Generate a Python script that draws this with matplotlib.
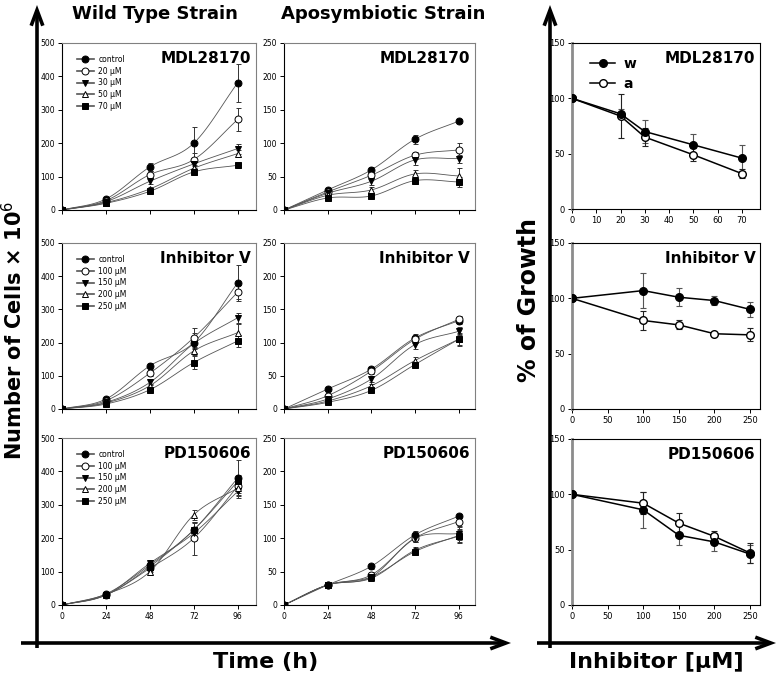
import numpy as np
import matplotlib
matplotlib.use("Agg")
import matplotlib.pyplot as plt

W, H = 778, 676

# ---------------- data ----------------
hours = [0, 24, 48, 72, 96]
wt_labels_mdl = ["control", "20 µM", "30 µM", "50 µM", "70 µM"]
wt_labels_inh = ["control", "100 µM", "150 µM", "200 µM", "250 µM"]

wt_mdl = [[0, 33, 129, 200, 381], [0, 28, 106, 151, 271], [0, 25, 86, 138, 184],
          [0, 22, 63, 125, 169], [0, 20, 56, 114, 134]]
wt_mdl_err = [[0, 5, 12, 49, 57], [0, 4, 10, 20, 34], [0, 3, 8, 12, 15],
              [0, 3, 6, 10, 10], [0, 3, 5, 8, 8]]
apo_mdl = [[0, 30, 60, 106, 133], [0, 27, 52, 82, 90], [0, 25, 43, 75, 77],
           [0, 22, 30, 54, 51], [0, 18, 21, 44, 42]]
apo_mdl_err = [[0, 3, 5, 7, 3], [0, 3, 4, 5, 10], [0, 3, 6, 8, 6],
               [0, 3, 4, 6, 12], [0, 3, 3, 5, 8]]

wt_inh = [[0, 30, 130, 200, 380], [0, 25, 108, 215, 352], [0, 20, 80, 197, 275],
          [0, 18, 70, 175, 230], [0, 15, 58, 140, 205]]
wt_inh_err = [[0, 5, 10, 30, 55], [0, 4, 10, 30, 20], [0, 3, 8, 15, 15],
              [0, 3, 6, 12, 25], [0, 3, 5, 20, 18]]
apo_inh = [[0, 30, 60, 107, 133], [0, 20, 57, 105, 135], [0, 15, 45, 97, 117],
           [0, 12, 35, 73, 105], [0, 10, 28, 67, 105]]
apo_inh_err = [[0, 3, 4, 6, 5], [0, 3, 4, 5, 5], [0, 2, 4, 6, 6],
               [0, 2, 3, 5, 8], [0, 2, 3, 4, 10]]

wt_pd = [[0, 33, 120, 225, 380], [0, 30, 110, 200, 355], [0, 30, 125, 215, 340],
         [0, 32, 100, 270, 350], [0, 30, 115, 225, 370]]
wt_pd_err = [[0, 5, 15, 25, 55], [0, 4, 12, 50, 25], [0, 4, 10, 20, 20],
             [0, 4, 10, 15, 15], [0, 4, 10, 20, 20]]
apo_pd = [[0, 30, 58, 105, 133], [0, 30, 45, 100, 125], [0, 30, 42, 100, 107],
          [0, 30, 40, 82, 103], [0, 30, 42, 80, 104]]
apo_pd_err = [[0, 3, 4, 6, 3], [0, 3, 4, 5, 6], [0, 3, 4, 5, 10],
              [0, 3, 3, 5, 10], [0, 3, 4, 5, 10]]

mdl_conc = [0, 20, 30, 50, 70]
mdl_w = [100, 86, 70, 58, 46]
mdl_w_err = [0, 4, 10, 10, 12]
mdl_a = [100, 84, 65, 49, 32]
mdl_a_err = [0, 20, 8, 6, 4]

inh_conc = [0, 100, 150, 200, 250]
inh_w = [100, 107, 101, 98, 90]
inh_w_err = [0, 16, 8, 4, 7]
inh_a = [100, 80, 76, 68, 67]
inh_a_err = [0, 9, 4, 2, 6]

pd_conc = [0, 100, 150, 200, 250]
pd_w = [100, 86, 63, 57, 46]
pd_w_err = [0, 16, 9, 8, 8]
pd_a = [100, 92, 74, 62, 47]
pd_a_err = [0, 10, 9, 5, 9]

# marker styles for the 5 series: (marker, facecolor)
styles = [("o", "black"), ("o", "white"), ("v", "black"), ("^", "white"), ("s", "black")]

FONT = "DejaVu Sans"
plt.rcParams["font.family"] = FONT


def px_axes(fig, left, top, right, bottom):
    return fig.add_axes([left / W, 1 - bottom / H, (right - left) / W, (bottom - top) / H])


def smooth(x, y, n=16):
    # catmull-rom through the measured points, only for drawing the curve
    x = np.asarray(x, float)
    y = np.asarray(y, float)
    px = np.concatenate([[2 * x[0] - x[1]], x, [2 * x[-1] - x[-2]]])
    py = np.concatenate([[2 * y[0] - y[1]], y, [2 * y[-1] - y[-2]]])
    xs, ys = [], []
    t = np.linspace(0, 1, n)
    for i in range(1, len(px) - 2):
        for arr, out in ((px, xs), (py, ys)):
            p0, p1, p2, p3 = arr[i - 1], arr[i], arr[i + 1], arr[i + 2]
            out.append(0.5 * (2 * p1 + (-p0 + p2) * t + (2 * p0 - 5 * p1 + 4 * p2 - p3) * t ** 2
                              + (-p0 + 3 * p1 - 3 * p2 + p3) * t ** 3))
    return np.concatenate(xs), np.concatenate(ys)


def style_box(ax, left_col="black", top_col="#808080", right_col="#808080", bottom_col="black",
              left_w=0.8):
    ax.spines["left"].set_color(left_col)
    ax.spines["left"].set_linewidth(left_w)
    ax.spines["bottom"].set_color(bottom_col)
    ax.spines["top"].set_color(top_col)
    ax.spines["right"].set_color(right_col)
    for s in ["bottom", "top", "right"]:
        ax.spines[s].set_linewidth(0.8)
    ax.tick_params(direction="out", length=3, width=0.7, labelsize=5.5, pad=2)


def growth_panel(ax, data, err, ymax, title, labels=None, xmax=106):
    for i, (ys, es) in enumerate(zip(data, err)):
        xs_s, ys_s = smooth(hours, ys)
        ax.plot(xs_s, ys_s, color="#555555", lw=0.6, zorder=2)
        ax.errorbar(hours, ys, yerr=es, fmt="none", ecolor="#333333", elinewidth=0.7,
                    capsize=1.8, capthick=0.7, zorder=3)
        m, fc = styles[i]
        ax.plot(hours, ys, linestyle="none", marker=m, markersize=5, markerfacecolor=fc,
                markeredgecolor="black", markeredgewidth=0.7, zorder=4,
                label=labels[i] if labels else None)
    ax.set_xlim(0, xmax)
    ax.set_ylim(0, ymax)
    ax.set_xticks(hours)
    ax.set_yticks(np.linspace(0, ymax, 6))
    ax.set_xticklabels([])
    ax.text(0.975, 0.95, title, transform=ax.transAxes, ha="right", va="top",
            fontsize=11, fontweight="bold")
    style_box(ax)
    if labels:
        leg = ax.legend(loc="upper left", bbox_to_anchor=(0.05, 0.96), fontsize=5.5,
                        frameon=False, handlelength=2.2, handletextpad=0.6,
                        labelspacing=0.35, borderpad=0.2)
        for h in leg.legend_handles:
            h.set_linestyle("-")
            h.set_color("#555555")
            h.set_linewidth(1.2)


def percent_panel(ax, conc, w, w_err, a, a_err, title, xmax, xticks, legend=False):
    ax.errorbar(conc, w, yerr=w_err, fmt="none", ecolor="#555555", elinewidth=0.8,
                capsize=2.2, capthick=0.8, zorder=2)
    ax.errorbar(conc, a, yerr=a_err, fmt="none", ecolor="#222222", elinewidth=0.8,
                capsize=2.2, capthick=0.8, zorder=2)
    ax.plot(conc, w, color="black", lw=1.1, marker="o", markersize=5.5,
            markerfacecolor="black", markeredgecolor="black", zorder=4, label="w")
    ax.plot(conc, a, color="black", lw=1.1, marker="o", markersize=5.5,
            markerfacecolor="white", markeredgecolor="black", markeredgewidth=1.0,
            zorder=3, label="a")
    ax.set_xlim(0, xmax)
    ax.set_ylim(0, 150)
    ax.set_yticks([0, 50, 100, 150])
    ax.set_xticks(xticks)
    ax.text(0.975, 0.95, title, transform=ax.transAxes, ha="right", va="top",
            fontsize=11, fontweight="bold")
    style_box(ax, left_col="#8c8c8c", top_col="black", right_col="black", left_w=2.0)
    ax.tick_params(labelsize=6)
    if legend:
        ax.legend(loc="upper left", bbox_to_anchor=(0.03, 0.99), frameon=False,
                  prop={"size": 10, "weight": "bold"}, handlelength=1.8,
                  handletextpad=0.6, labelspacing=0.4)


fig = plt.figure(figsize=(W / 100, H / 100), dpi=100)

rows = [(43, 210), (243, 409), (438, 605)]
wt_left, wt_right = 62, 256
apo_left, apo_right = 284, 475
r_left, r_right = 572, 760

panels = [
    (wt_mdl, wt_mdl_err, apo_mdl, apo_mdl_err, "MDL28170", wt_labels_mdl),
    (wt_inh, wt_inh_err, apo_inh, apo_inh_err, "Inhibitor V", wt_labels_inh),
    (wt_pd, wt_pd_err, apo_pd, apo_pd_err, "PD150606", wt_labels_inh),
]

for r, (top, bottom) in enumerate(rows):
    wd, we, ad, ae, title, labels = panels[r]
    ax1 = px_axes(fig, wt_left, top, wt_right, bottom)
    growth_panel(ax1, wd, we, 500, title, labels, xmax=106)
    ax2 = px_axes(fig, apo_left, top, apo_right, bottom)
    growth_panel(ax2, ad, ae, 250, title, None, xmax=105)
    if r == 2:
        for ax in (ax1, ax2):
            ax.set_xticklabels([str(h) for h in hours])

ax = px_axes(fig, r_left, 43, r_right, 209)
percent_panel(ax, mdl_conc, mdl_w, mdl_w_err, mdl_a, mdl_a_err, "MDL28170", 77.5,
              [0, 10, 20, 30, 40, 50, 60, 70], legend=True)
ax = px_axes(fig, r_left, 243, r_right, 409)
percent_panel(ax, inh_conc, inh_w, inh_w_err, inh_a, inh_a_err, "Inhibitor V", 264,
              [0, 50, 100, 150, 200, 250])
ax = px_axes(fig, r_left, 439, r_right, 605)
percent_panel(ax, pd_conc, pd_w, pd_w_err, pd_a, pd_a_err, "PD150606", 264,
              [0, 50, 100, 150, 200, 250])

# big axis arrows
arrow = dict(arrowstyle="->,head_width=0.3,head_length=0.8", lw=2.6, color="black",
             shrinkA=0, shrinkB=0, joinstyle="miter", capstyle="butt")


def fx(x):
    return x / W


def fy(y):
    return 1 - y / H


for p0, p1 in [((37, 648), (37, 5)), ((21, 643), (511, 643)),
               ((550, 648), (550, 5)), ((537, 643), (776, 643))]:
    fig.add_artist(matplotlib.patches.FancyArrowPatch((fx(p0[0]), fy(p0[1])),
                                                      (fx(p1[0]), fy(p1[1])),
                                                      transform=fig.transFigure,
                                                      mutation_scale=14, **arrow))

fig.text(fx(155), fy(14), "Wild Type Strain", ha="center", va="center", fontsize=13,
         fontweight="bold")
fig.text(fx(383), fy(14), "Aposymbiotic Strain", ha="center", va="center", fontsize=13,
         fontweight="bold")
fig.text(fx(14), fy(330), "Number of Cells × 10$^6$", ha="center", va="center", fontsize=15,
         fontweight="bold", rotation=90)
fig.text(fx(529), fy(300), "% of Growth", ha="center", va="center", fontsize=17,
         fontweight="bold", rotation=90)
fig.text(fx(266), fy(662), "Time (h)", ha="center", va="center", fontsize=16,
         fontweight="bold")
fig.text(fx(656), fy(662), "Inhibitor [µM]", ha="center", va="center", fontsize=16,
         fontweight="bold")

fig.savefig("out.png", dpi=100)
